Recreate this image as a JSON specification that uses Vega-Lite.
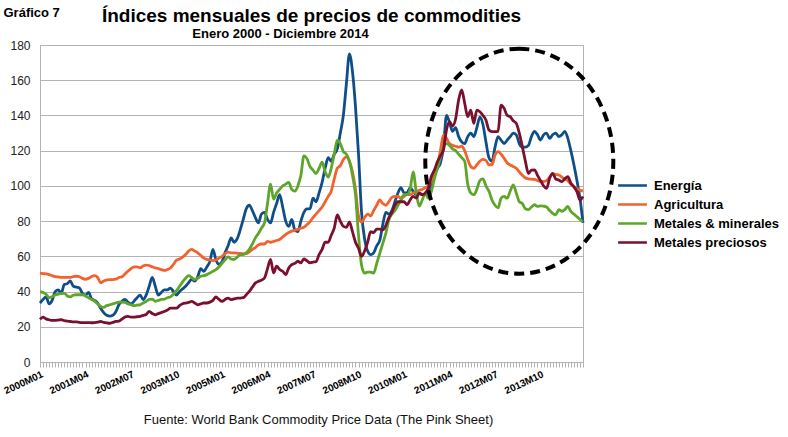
{
  "$schema": "https://vega.github.io/schema/vega-lite/v6.json",
  "autosize": {"type": "none"},
  "padding": {"left": 40, "top": 45, "right": 205, "bottom": 75},
  "width": 543,
  "height": 317,
  "title": {
    "text": "Índices mensuales de precios de commodities",
    "anchor": "middle",
    "frame": "group",
    "font": "Liberation Sans",
    "fontSize": 19,
    "fontWeight": "bold",
    "color": "#000000",
    "offset": -20
  },
  "config": {
    "view": {"stroke": "#b3b3b3", "strokeWidth": 1},
    "axis": {"gridColor": "#b3b3b3", "domainColor": "#b3b3b3", "tickColor": "#b3b3b3", "labelFont": "Liberation Sans", "titleFont": "Liberation Sans"}
  },
  "resolve": {"axis": {"y": "independent"}},
  "data": {
    "values": [
      {"mes":"2000M01","serie":"Energía","valor":33.5},{"mes":"2000M02","serie":"Energía","valor":35.5},{"mes":"2000M03","serie":"Energía","valor":37},{"mes":"2000M04","serie":"Energía","valor":33},{"mes":"2000M05","serie":"Energía","valor":35},{"mes":"2000M06","serie":"Energía","valor":40},{"mes":"2000M07","serie":"Energía","valor":41},{"mes":"2000M08","serie":"Energía","valor":39},{"mes":"2000M09","serie":"Energía","valor":44},{"mes":"2000M10","serie":"Energía","valor":44.5},{"mes":"2000M11","serie":"Energía","valor":46},{"mes":"2000M12","serie":"Energía","valor":43},
      {"mes":"2001M01","serie":"Energía","valor":42.5},{"mes":"2001M02","serie":"Energía","valor":42},{"mes":"2001M03","serie":"Energía","valor":39},{"mes":"2001M04","serie":"Energía","valor":38},{"mes":"2001M05","serie":"Energía","valor":39.5},{"mes":"2001M06","serie":"Energía","valor":36},{"mes":"2001M07","serie":"Energía","valor":35},{"mes":"2001M08","serie":"Energía","valor":33.5},{"mes":"2001M09","serie":"Energía","valor":30.5},{"mes":"2001M10","serie":"Energía","valor":28},{"mes":"2001M11","serie":"Energía","valor":26.5},{"mes":"2001M12","serie":"Energía","valor":26},
      {"mes":"2002M01","serie":"Energía","valor":26.5},{"mes":"2002M02","serie":"Energía","valor":28.5},{"mes":"2002M03","serie":"Energía","valor":32.5},{"mes":"2002M04","serie":"Energía","valor":34.5},{"mes":"2002M05","serie":"Energía","valor":35.5},{"mes":"2002M06","serie":"Energía","valor":34},{"mes":"2002M07","serie":"Energía","valor":33},{"mes":"2002M08","serie":"Energía","valor":34.5},{"mes":"2002M09","serie":"Energía","valor":36.5},{"mes":"2002M10","serie":"Energía","valor":38},{"mes":"2002M11","serie":"Energía","valor":35.5},{"mes":"2002M12","serie":"Energía","valor":38},
      {"mes":"2003M01","serie":"Energía","valor":43},{"mes":"2003M02","serie":"Energía","valor":48},{"mes":"2003M03","serie":"Energía","valor":43},{"mes":"2003M04","serie":"Energía","valor":38},{"mes":"2003M05","serie":"Energía","valor":39.5},{"mes":"2003M06","serie":"Energía","valor":41},{"mes":"2003M07","serie":"Energía","valor":41},{"mes":"2003M08","serie":"Energía","valor":42},{"mes":"2003M09","serie":"Energía","valor":40},{"mes":"2003M10","serie":"Energía","valor":38},{"mes":"2003M11","serie":"Energía","valor":40},{"mes":"2003M12","serie":"Energía","valor":41.5},
      {"mes":"2004M01","serie":"Energía","valor":43},{"mes":"2004M02","serie":"Energía","valor":45},{"mes":"2004M03","serie":"Energía","valor":47},{"mes":"2004M04","serie":"Energía","valor":46},{"mes":"2004M05","serie":"Energía","valor":48.5},{"mes":"2004M06","serie":"Energía","valor":53},{"mes":"2004M07","serie":"Energía","valor":51.5},{"mes":"2004M08","serie":"Energía","valor":54},{"mes":"2004M09","serie":"Energía","valor":57},{"mes":"2004M10","serie":"Energía","valor":64},{"mes":"2004M11","serie":"Energía","valor":58},{"mes":"2004M12","serie":"Energía","valor":55.5},
      {"mes":"2005M01","serie":"Energía","valor":57},{"mes":"2005M02","serie":"Energía","valor":62},{"mes":"2005M03","serie":"Energía","valor":66},{"mes":"2005M04","serie":"Energía","valor":70.5},{"mes":"2005M05","serie":"Energía","valor":68},{"mes":"2005M06","serie":"Energía","valor":70},{"mes":"2005M07","serie":"Energía","valor":75},{"mes":"2005M08","serie":"Energía","valor":81},{"mes":"2005M09","serie":"Energía","valor":87},{"mes":"2005M10","serie":"Energía","valor":89},{"mes":"2005M11","serie":"Energía","valor":86},{"mes":"2005M12","serie":"Energía","valor":82},
      {"mes":"2006M01","serie":"Energía","valor":79},{"mes":"2006M02","serie":"Energía","valor":84},{"mes":"2006M03","serie":"Energía","valor":85},{"mes":"2006M04","serie":"Energía","valor":81},{"mes":"2006M05","serie":"Energía","valor":79},{"mes":"2006M06","serie":"Energía","valor":85},{"mes":"2006M07","serie":"Energía","valor":90},{"mes":"2006M08","serie":"Energía","valor":95},{"mes":"2006M09","serie":"Energía","valor":88},{"mes":"2006M10","serie":"Energía","valor":80},{"mes":"2006M11","serie":"Energía","valor":77},{"mes":"2006M12","serie":"Energía","valor":81},
      {"mes":"2007M01","serie":"Energía","valor":75},{"mes":"2007M02","serie":"Energía","valor":74},{"mes":"2007M03","serie":"Energía","valor":80},{"mes":"2007M04","serie":"Energía","valor":85},{"mes":"2007M05","serie":"Energía","valor":87},{"mes":"2007M06","serie":"Energía","valor":87},{"mes":"2007M07","serie":"Energía","valor":93},{"mes":"2007M08","serie":"Energía","valor":91},{"mes":"2007M09","serie":"Energía","valor":96},{"mes":"2007M10","serie":"Energía","valor":102},{"mes":"2007M11","serie":"Energía","valor":110},{"mes":"2007M12","serie":"Energía","valor":116},
      {"mes":"2008M01","serie":"Energía","valor":114},{"mes":"2008M02","serie":"Energía","valor":118},{"mes":"2008M03","serie":"Energía","valor":121},{"mes":"2008M04","serie":"Energía","valor":130},{"mes":"2008M05","serie":"Energía","valor":140},{"mes":"2008M06","serie":"Energía","valor":158},{"mes":"2008M07","serie":"Energía","valor":175},{"mes":"2008M08","serie":"Energía","valor":165},{"mes":"2008M09","serie":"Energía","valor":145},{"mes":"2008M10","serie":"Energía","valor":118},{"mes":"2008M11","serie":"Energía","valor":85},{"mes":"2008M12","serie":"Energía","valor":70},
      {"mes":"2009M01","serie":"Energía","valor":63},{"mes":"2009M02","serie":"Energía","valor":61},{"mes":"2009M03","serie":"Energía","valor":62},{"mes":"2009M04","serie":"Energía","valor":66},{"mes":"2009M05","serie":"Energía","valor":69},{"mes":"2009M06","serie":"Energía","valor":78},{"mes":"2009M07","serie":"Energía","valor":85},{"mes":"2009M08","serie":"Energía","valor":84},{"mes":"2009M09","serie":"Energía","valor":86},{"mes":"2009M10","serie":"Energía","valor":91},{"mes":"2009M11","serie":"Energía","valor":96},{"mes":"2009M12","serie":"Energía","valor":99},
      {"mes":"2010M01","serie":"Energía","valor":96},{"mes":"2010M02","serie":"Energía","valor":96},{"mes":"2010M03","serie":"Energía","valor":99},{"mes":"2010M04","serie":"Energía","valor":97},{"mes":"2010M05","serie":"Energía","valor":95},{"mes":"2010M06","serie":"Energía","valor":96},{"mes":"2010M07","serie":"Energía","valor":95},{"mes":"2010M08","serie":"Energía","valor":95},{"mes":"2010M09","serie":"Energía","valor":97},{"mes":"2010M10","serie":"Energía","valor":100},{"mes":"2010M11","serie":"Energía","valor":106},{"mes":"2010M12","serie":"Energía","valor":110},
      {"mes":"2011M01","serie":"Energía","valor":113},{"mes":"2011M02","serie":"Energía","valor":122},{"mes":"2011M03","serie":"Energía","valor":140},{"mes":"2011M04","serie":"Energía","valor":136},{"mes":"2011M05","serie":"Energía","valor":131},{"mes":"2011M06","serie":"Energía","valor":133},{"mes":"2011M07","serie":"Energía","valor":128},{"mes":"2011M08","serie":"Energía","valor":125},{"mes":"2011M09","serie":"Energía","valor":124},{"mes":"2011M10","serie":"Energía","valor":128},{"mes":"2011M11","serie":"Energía","valor":130},{"mes":"2011M12","serie":"Energía","valor":128},
      {"mes":"2012M01","serie":"Energía","valor":133},{"mes":"2012M02","serie":"Energía","valor":139},{"mes":"2012M03","serie":"Energía","valor":135},{"mes":"2012M04","serie":"Energía","valor":125},{"mes":"2012M05","serie":"Energía","valor":116},{"mes":"2012M06","serie":"Energía","valor":114},{"mes":"2012M07","serie":"Energía","valor":122},{"mes":"2012M08","serie":"Energía","valor":128},{"mes":"2012M09","serie":"Energía","valor":126},{"mes":"2012M10","serie":"Energía","valor":124},{"mes":"2012M11","serie":"Energía","valor":126},{"mes":"2012M12","serie":"Energía","valor":128},
      {"mes":"2013M01","serie":"Energía","valor":130},{"mes":"2013M02","serie":"Energía","valor":129},{"mes":"2013M03","serie":"Energía","valor":124},{"mes":"2013M04","serie":"Energía","valor":122},{"mes":"2013M05","serie":"Energía","valor":122},{"mes":"2013M06","serie":"Energía","valor":123},{"mes":"2013M07","serie":"Energía","valor":128},{"mes":"2013M08","serie":"Energía","valor":131},{"mes":"2013M09","serie":"Energía","valor":129},{"mes":"2013M10","serie":"Energía","valor":126},{"mes":"2013M11","serie":"Energía","valor":129},{"mes":"2013M12","serie":"Energía","valor":130},
      {"mes":"2014M01","serie":"Energía","valor":127},{"mes":"2014M02","serie":"Energía","valor":129},{"mes":"2014M03","serie":"Energía","valor":130},{"mes":"2014M04","serie":"Energía","valor":128},{"mes":"2014M05","serie":"Energía","valor":129},{"mes":"2014M06","serie":"Energía","valor":131},{"mes":"2014M07","serie":"Energía","valor":127},{"mes":"2014M08","serie":"Energía","valor":120},{"mes":"2014M09","serie":"Energía","valor":112},{"mes":"2014M10","serie":"Energía","valor":103},{"mes":"2014M11","serie":"Energía","valor":93},{"mes":"2014M12","serie":"Energía","valor":79},

      {"mes":"2000M01","serie":"Agricultura","valor":50.5},{"mes":"2000M02","serie":"Agricultura","valor":50.2},{"mes":"2000M03","serie":"Agricultura","valor":50},{"mes":"2000M04","serie":"Agricultura","valor":49.6},{"mes":"2000M05","serie":"Agricultura","valor":49},{"mes":"2000M06","serie":"Agricultura","valor":48.5},{"mes":"2000M07","serie":"Agricultura","valor":48.3},{"mes":"2000M08","serie":"Agricultura","valor":48},{"mes":"2000M09","serie":"Agricultura","valor":48},{"mes":"2000M10","serie":"Agricultura","valor":48},{"mes":"2000M11","serie":"Agricultura","valor":48},{"mes":"2000M12","serie":"Agricultura","valor":48.5},
      {"mes":"2001M01","serie":"Agricultura","valor":48.7},{"mes":"2001M02","serie":"Agricultura","valor":48.5},{"mes":"2001M03","serie":"Agricultura","valor":47.5},{"mes":"2001M04","serie":"Agricultura","valor":47},{"mes":"2001M05","serie":"Agricultura","valor":47.5},{"mes":"2001M06","serie":"Agricultura","valor":48.5},{"mes":"2001M07","serie":"Agricultura","valor":49},{"mes":"2001M08","serie":"Agricultura","valor":48},{"mes":"2001M09","serie":"Agricultura","valor":45},{"mes":"2001M10","serie":"Agricultura","valor":46},{"mes":"2001M11","serie":"Agricultura","valor":46.5},{"mes":"2001M12","serie":"Agricultura","valor":46.8},
      {"mes":"2002M01","serie":"Agricultura","valor":46.8},{"mes":"2002M02","serie":"Agricultura","valor":47},{"mes":"2002M03","serie":"Agricultura","valor":48},{"mes":"2002M04","serie":"Agricultura","valor":48.3},{"mes":"2002M05","serie":"Agricultura","valor":50},{"mes":"2002M06","serie":"Agricultura","valor":51.5},{"mes":"2002M07","serie":"Agricultura","valor":53},{"mes":"2002M08","serie":"Agricultura","valor":54},{"mes":"2002M09","serie":"Agricultura","valor":54},{"mes":"2002M10","serie":"Agricultura","valor":53.5},{"mes":"2002M11","serie":"Agricultura","valor":54.5},{"mes":"2002M12","serie":"Agricultura","valor":55},
      {"mes":"2003M01","serie":"Agricultura","valor":54.8},{"mes":"2003M02","serie":"Agricultura","valor":54},{"mes":"2003M03","serie":"Agricultura","valor":53.5},{"mes":"2003M04","serie":"Agricultura","valor":53},{"mes":"2003M05","serie":"Agricultura","valor":52.5},{"mes":"2003M06","serie":"Agricultura","valor":52},{"mes":"2003M07","serie":"Agricultura","valor":52.5},{"mes":"2003M08","serie":"Agricultura","valor":53.4},{"mes":"2003M09","serie":"Agricultura","valor":55.5},{"mes":"2003M10","serie":"Agricultura","valor":57.8},{"mes":"2003M11","serie":"Agricultura","valor":58.5},{"mes":"2003M12","serie":"Agricultura","valor":59.5},
      {"mes":"2004M01","serie":"Agricultura","valor":61},{"mes":"2004M02","serie":"Agricultura","valor":63},{"mes":"2004M03","serie":"Agricultura","valor":64},{"mes":"2004M04","serie":"Agricultura","valor":63},{"mes":"2004M05","serie":"Agricultura","valor":62},{"mes":"2004M06","serie":"Agricultura","valor":60.5},{"mes":"2004M07","serie":"Agricultura","valor":59},{"mes":"2004M08","serie":"Agricultura","valor":58.3},{"mes":"2004M09","serie":"Agricultura","valor":58},{"mes":"2004M10","serie":"Agricultura","valor":57.6},{"mes":"2004M11","serie":"Agricultura","valor":58},{"mes":"2004M12","serie":"Agricultura","valor":59},
      {"mes":"2005M01","serie":"Agricultura","valor":60},{"mes":"2005M02","serie":"Agricultura","valor":61.5},{"mes":"2005M03","serie":"Agricultura","valor":62.4},{"mes":"2005M04","serie":"Agricultura","valor":62},{"mes":"2005M05","serie":"Agricultura","valor":62},{"mes":"2005M06","serie":"Agricultura","valor":61.8},{"mes":"2005M07","serie":"Agricultura","valor":61.6},{"mes":"2005M08","serie":"Agricultura","valor":61.5},{"mes":"2005M09","serie":"Agricultura","valor":61.6},{"mes":"2005M10","serie":"Agricultura","valor":62.5},{"mes":"2005M11","serie":"Agricultura","valor":64},{"mes":"2005M12","serie":"Agricultura","valor":65},
      {"mes":"2006M01","serie":"Agricultura","valor":66.5},{"mes":"2006M02","serie":"Agricultura","valor":67},{"mes":"2006M03","serie":"Agricultura","valor":67},{"mes":"2006M04","serie":"Agricultura","valor":68.5},{"mes":"2006M05","serie":"Agricultura","valor":68},{"mes":"2006M06","serie":"Agricultura","valor":68.5},{"mes":"2006M07","serie":"Agricultura","valor":69},{"mes":"2006M08","serie":"Agricultura","valor":69.6},{"mes":"2006M09","serie":"Agricultura","valor":71},{"mes":"2006M10","serie":"Agricultura","valor":72.4},{"mes":"2006M11","serie":"Agricultura","valor":73.5},{"mes":"2006M12","serie":"Agricultura","valor":74.3},
      {"mes":"2007M01","serie":"Agricultura","valor":74.8},{"mes":"2007M02","serie":"Agricultura","valor":75.3},{"mes":"2007M03","serie":"Agricultura","valor":76},{"mes":"2007M04","serie":"Agricultura","valor":76.5},{"mes":"2007M05","serie":"Agricultura","valor":78},{"mes":"2007M06","serie":"Agricultura","valor":79.6},{"mes":"2007M07","serie":"Agricultura","valor":82},{"mes":"2007M08","serie":"Agricultura","valor":84},{"mes":"2007M09","serie":"Agricultura","valor":86},{"mes":"2007M10","serie":"Agricultura","valor":88},{"mes":"2007M11","serie":"Agricultura","valor":91},{"mes":"2007M12","serie":"Agricultura","valor":94},
      {"mes":"2008M01","serie":"Agricultura","valor":97},{"mes":"2008M02","serie":"Agricultura","valor":104},{"mes":"2008M03","serie":"Agricultura","valor":110},{"mes":"2008M04","serie":"Agricultura","valor":111.5},{"mes":"2008M05","serie":"Agricultura","valor":115},{"mes":"2008M06","serie":"Agricultura","valor":116.5},{"mes":"2008M07","serie":"Agricultura","valor":114},{"mes":"2008M08","serie":"Agricultura","valor":108},{"mes":"2008M09","serie":"Agricultura","valor":98},{"mes":"2008M10","serie":"Agricultura","valor":83},{"mes":"2008M11","serie":"Agricultura","valor":79.5},{"mes":"2008M12","serie":"Agricultura","valor":82},
      {"mes":"2009M01","serie":"Agricultura","valor":84},{"mes":"2009M02","serie":"Agricultura","valor":83},{"mes":"2009M03","serie":"Agricultura","valor":86},{"mes":"2009M04","serie":"Agricultura","valor":89},{"mes":"2009M05","serie":"Agricultura","valor":92},{"mes":"2009M06","serie":"Agricultura","valor":90},{"mes":"2009M07","serie":"Agricultura","valor":89},{"mes":"2009M08","serie":"Agricultura","valor":91},{"mes":"2009M09","serie":"Agricultura","valor":93.5},{"mes":"2009M10","serie":"Agricultura","valor":94},{"mes":"2009M11","serie":"Agricultura","valor":94},{"mes":"2009M12","serie":"Agricultura","valor":93},
      {"mes":"2010M01","serie":"Agricultura","valor":94},{"mes":"2010M02","serie":"Agricultura","valor":95},{"mes":"2010M03","serie":"Agricultura","valor":95},{"mes":"2010M04","serie":"Agricultura","valor":96},{"mes":"2010M05","serie":"Agricultura","valor":96.5},{"mes":"2010M06","serie":"Agricultura","valor":97.5},{"mes":"2010M07","serie":"Agricultura","valor":98},{"mes":"2010M08","serie":"Agricultura","valor":99},{"mes":"2010M09","serie":"Agricultura","valor":100},{"mes":"2010M10","serie":"Agricultura","valor":103},{"mes":"2010M11","serie":"Agricultura","valor":107},{"mes":"2010M12","serie":"Agricultura","valor":112},
      {"mes":"2011M01","serie":"Agricultura","valor":120},{"mes":"2011M02","serie":"Agricultura","valor":129},{"mes":"2011M03","serie":"Agricultura","valor":127},{"mes":"2011M04","serie":"Agricultura","valor":124},{"mes":"2011M05","serie":"Agricultura","valor":123},{"mes":"2011M06","serie":"Agricultura","valor":122.5},{"mes":"2011M07","serie":"Agricultura","valor":122},{"mes":"2011M08","serie":"Agricultura","valor":122.5},{"mes":"2011M09","serie":"Agricultura","valor":120},{"mes":"2011M10","serie":"Agricultura","valor":115},{"mes":"2011M11","serie":"Agricultura","valor":111},{"mes":"2011M12","serie":"Agricultura","valor":110},
      {"mes":"2012M01","serie":"Agricultura","valor":112},{"mes":"2012M02","serie":"Agricultura","valor":114},{"mes":"2012M03","serie":"Agricultura","valor":115},{"mes":"2012M04","serie":"Agricultura","valor":114.5},{"mes":"2012M05","serie":"Agricultura","valor":112},{"mes":"2012M06","serie":"Agricultura","valor":112},{"mes":"2012M07","serie":"Agricultura","valor":117.5},{"mes":"2012M08","serie":"Agricultura","valor":119.4},{"mes":"2012M09","serie":"Agricultura","valor":118},{"mes":"2012M10","serie":"Agricultura","valor":115.7},{"mes":"2012M11","serie":"Agricultura","valor":113},{"mes":"2012M12","serie":"Agricultura","valor":111.9},
      {"mes":"2013M01","serie":"Agricultura","valor":111},{"mes":"2013M02","serie":"Agricultura","valor":110},{"mes":"2013M03","serie":"Agricultura","valor":108},{"mes":"2013M04","serie":"Agricultura","valor":106},{"mes":"2013M05","serie":"Agricultura","valor":104.5},{"mes":"2013M06","serie":"Agricultura","valor":104},{"mes":"2013M07","serie":"Agricultura","valor":103.8},{"mes":"2013M08","serie":"Agricultura","valor":103.7},{"mes":"2013M09","serie":"Agricultura","valor":103},{"mes":"2013M10","serie":"Agricultura","valor":102.5},{"mes":"2013M11","serie":"Agricultura","valor":102.5},{"mes":"2013M12","serie":"Agricultura","valor":103},
      {"mes":"2014M01","serie":"Agricultura","valor":105},{"mes":"2014M02","serie":"Agricultura","valor":107},{"mes":"2014M03","serie":"Agricultura","valor":106.5},{"mes":"2014M04","serie":"Agricultura","valor":106.2},{"mes":"2014M05","serie":"Agricultura","valor":105},{"mes":"2014M06","serie":"Agricultura","valor":104},{"mes":"2014M07","serie":"Agricultura","valor":103},{"mes":"2014M08","serie":"Agricultura","valor":101},{"mes":"2014M09","serie":"Agricultura","valor":99.5},{"mes":"2014M10","serie":"Agricultura","valor":98.5},{"mes":"2014M11","serie":"Agricultura","valor":97.6},{"mes":"2014M12","serie":"Agricultura","valor":97},

      {"mes":"2000M01","serie":"Metales & minerales","valor":40},{"mes":"2000M02","serie":"Metales & minerales","valor":39.5},{"mes":"2000M03","serie":"Metales & minerales","valor":38.5},{"mes":"2000M04","serie":"Metales & minerales","valor":36.5},{"mes":"2000M05","serie":"Metales & minerales","valor":37},{"mes":"2000M06","serie":"Metales & minerales","valor":38},{"mes":"2000M07","serie":"Metales & minerales","valor":38.5},{"mes":"2000M08","serie":"Metales & minerales","valor":39},{"mes":"2000M09","serie":"Metales & minerales","valor":39},{"mes":"2000M10","serie":"Metales & minerales","valor":37.5},{"mes":"2000M11","serie":"Metales & minerales","valor":37},{"mes":"2000M12","serie":"Metales & minerales","valor":38},
      {"mes":"2001M01","serie":"Metales & minerales","valor":38.2},{"mes":"2001M02","serie":"Metales & minerales","valor":38.2},{"mes":"2001M03","serie":"Metales & minerales","valor":38.2},{"mes":"2001M04","serie":"Metales & minerales","valor":37.5},{"mes":"2001M05","serie":"Metales & minerales","valor":36.5},{"mes":"2001M06","serie":"Metales & minerales","valor":35.5},{"mes":"2001M07","serie":"Metales & minerales","valor":34.5},{"mes":"2001M08","serie":"Metales & minerales","valor":33},{"mes":"2001M09","serie":"Metales & minerales","valor":31.5},{"mes":"2001M10","serie":"Metales & minerales","valor":31},{"mes":"2001M11","serie":"Metales & minerales","valor":32},{"mes":"2001M12","serie":"Metales & minerales","valor":32.5},
      {"mes":"2002M01","serie":"Metales & minerales","valor":33},{"mes":"2002M02","serie":"Metales & minerales","valor":33.5},{"mes":"2002M03","serie":"Metales & minerales","valor":34},{"mes":"2002M04","serie":"Metales & minerales","valor":34},{"mes":"2002M05","serie":"Metales & minerales","valor":33.8},{"mes":"2002M06","serie":"Metales & minerales","valor":33},{"mes":"2002M07","serie":"Metales & minerales","valor":32.5},{"mes":"2002M08","serie":"Metales & minerales","valor":32},{"mes":"2002M09","serie":"Metales & minerales","valor":32.3},{"mes":"2002M10","serie":"Metales & minerales","valor":32.5},{"mes":"2002M11","serie":"Metales & minerales","valor":33.5},{"mes":"2002M12","serie":"Metales & minerales","valor":34.4},
      {"mes":"2003M01","serie":"Metales & minerales","valor":35.5},{"mes":"2003M02","serie":"Metales & minerales","valor":35.7},{"mes":"2003M03","serie":"Metales & minerales","valor":34.5},{"mes":"2003M04","serie":"Metales & minerales","valor":35},{"mes":"2003M05","serie":"Metales & minerales","valor":35.5},{"mes":"2003M06","serie":"Metales & minerales","valor":35.7},{"mes":"2003M07","serie":"Metales & minerales","valor":36.5},{"mes":"2003M08","serie":"Metales & minerales","valor":37},{"mes":"2003M09","serie":"Metales & minerales","valor":38.5},{"mes":"2003M10","serie":"Metales & minerales","valor":40.5},{"mes":"2003M11","serie":"Metales & minerales","valor":43},{"mes":"2003M12","serie":"Metales & minerales","valor":45.5},
      {"mes":"2004M01","serie":"Metales & minerales","valor":47.5},{"mes":"2004M02","serie":"Metales & minerales","valor":49},{"mes":"2004M03","serie":"Metales & minerales","valor":48},{"mes":"2004M04","serie":"Metales & minerales","valor":46.8},{"mes":"2004M05","serie":"Metales & minerales","valor":47.5},{"mes":"2004M06","serie":"Metales & minerales","valor":48.7},{"mes":"2004M07","serie":"Metales & minerales","valor":49},{"mes":"2004M08","serie":"Metales & minerales","valor":49.6},{"mes":"2004M09","serie":"Metales & minerales","valor":50.5},{"mes":"2004M10","serie":"Metales & minerales","valor":51.5},{"mes":"2004M11","serie":"Metales & minerales","valor":52.5},{"mes":"2004M12","serie":"Metales & minerales","valor":54},
      {"mes":"2005M01","serie":"Metales & minerales","valor":56},{"mes":"2005M02","serie":"Metales & minerales","valor":58},{"mes":"2005M03","serie":"Metales & minerales","valor":59.7},{"mes":"2005M04","serie":"Metales & minerales","valor":58.5},{"mes":"2005M05","serie":"Metales & minerales","valor":58.2},{"mes":"2005M06","serie":"Metales & minerales","valor":59.5},{"mes":"2005M07","serie":"Metales & minerales","valor":61},{"mes":"2005M08","serie":"Metales & minerales","valor":61},{"mes":"2005M09","serie":"Metales & minerales","valor":62},{"mes":"2005M10","serie":"Metales & minerales","valor":64},{"mes":"2005M11","serie":"Metales & minerales","valor":67},{"mes":"2005M12","serie":"Metales & minerales","valor":70.5},
      {"mes":"2006M01","serie":"Metales & minerales","valor":73},{"mes":"2006M02","serie":"Metales & minerales","valor":76},{"mes":"2006M03","serie":"Metales & minerales","valor":79},{"mes":"2006M04","serie":"Metales & minerales","valor":90},{"mes":"2006M05","serie":"Metales & minerales","valor":101},{"mes":"2006M06","serie":"Metales & minerales","valor":92.5},{"mes":"2006M07","serie":"Metales & minerales","valor":96},{"mes":"2006M08","serie":"Metales & minerales","valor":98},{"mes":"2006M09","serie":"Metales & minerales","valor":100},{"mes":"2006M10","serie":"Metales & minerales","valor":101},{"mes":"2006M11","serie":"Metales & minerales","valor":102},{"mes":"2006M12","serie":"Metales & minerales","valor":98},
      {"mes":"2007M01","serie":"Metales & minerales","valor":97},{"mes":"2007M02","serie":"Metales & minerales","valor":100},{"mes":"2007M03","serie":"Metales & minerales","valor":106},{"mes":"2007M04","serie":"Metales & minerales","valor":117},{"mes":"2007M05","serie":"Metales & minerales","valor":115.5},{"mes":"2007M06","serie":"Metales & minerales","valor":111},{"mes":"2007M07","serie":"Metales & minerales","valor":109},{"mes":"2007M08","serie":"Metales & minerales","valor":107},{"mes":"2007M09","serie":"Metales & minerales","valor":110},{"mes":"2007M10","serie":"Metales & minerales","valor":113.5},{"mes":"2007M11","serie":"Metales & minerales","valor":108},{"mes":"2007M12","serie":"Metales & minerales","valor":105},
      {"mes":"2008M01","serie":"Metales & minerales","valor":110},{"mes":"2008M02","serie":"Metales & minerales","valor":118},{"mes":"2008M03","serie":"Metales & minerales","valor":126},{"mes":"2008M04","serie":"Metales & minerales","valor":124},{"mes":"2008M05","serie":"Metales & minerales","valor":119.5},{"mes":"2008M06","serie":"Metales & minerales","valor":118},{"mes":"2008M07","serie":"Metales & minerales","valor":114},{"mes":"2008M08","serie":"Metales & minerales","valor":106},{"mes":"2008M09","serie":"Metales & minerales","valor":95},{"mes":"2008M10","serie":"Metales & minerales","valor":72},{"mes":"2008M11","serie":"Metales & minerales","valor":55},{"mes":"2008M12","serie":"Metales & minerales","valor":50.5},
      {"mes":"2009M01","serie":"Metales & minerales","valor":51},{"mes":"2009M02","serie":"Metales & minerales","valor":51},{"mes":"2009M03","serie":"Metales & minerales","valor":50.5},{"mes":"2009M04","serie":"Metales & minerales","valor":56},{"mes":"2009M05","serie":"Metales & minerales","valor":61.7},{"mes":"2009M06","serie":"Metales & minerales","valor":67.4},{"mes":"2009M07","serie":"Metales & minerales","valor":73},{"mes":"2009M08","serie":"Metales & minerales","valor":80.6},{"mes":"2009M09","serie":"Metales & minerales","valor":84},{"mes":"2009M10","serie":"Metales & minerales","valor":86},{"mes":"2009M11","serie":"Metales & minerales","valor":89},{"mes":"2009M12","serie":"Metales & minerales","valor":92},
      {"mes":"2010M01","serie":"Metales & minerales","valor":95},{"mes":"2010M02","serie":"Metales & minerales","valor":95},{"mes":"2010M03","serie":"Metales & minerales","valor":98},{"mes":"2010M04","serie":"Metales & minerales","valor":108},{"mes":"2010M05","serie":"Metales & minerales","valor":97},{"mes":"2010M06","serie":"Metales & minerales","valor":88.5},{"mes":"2010M07","serie":"Metales & minerales","valor":92},{"mes":"2010M08","serie":"Metales & minerales","valor":95.8},{"mes":"2010M09","serie":"Metales & minerales","valor":93},{"mes":"2010M10","serie":"Metales & minerales","valor":96.8},{"mes":"2010M11","serie":"Metales & minerales","valor":104},{"mes":"2010M12","serie":"Metales & minerales","valor":110},
      {"mes":"2011M01","serie":"Metales & minerales","valor":116},{"mes":"2011M02","serie":"Metales & minerales","valor":122},{"mes":"2011M03","serie":"Metales & minerales","valor":124},{"mes":"2011M04","serie":"Metales & minerales","valor":123},{"mes":"2011M05","serie":"Metales & minerales","valor":121},{"mes":"2011M06","serie":"Metales & minerales","valor":120},{"mes":"2011M07","serie":"Metales & minerales","valor":118},{"mes":"2011M08","serie":"Metales & minerales","valor":116},{"mes":"2011M09","serie":"Metales & minerales","valor":114},{"mes":"2011M10","serie":"Metales & minerales","valor":101},{"mes":"2011M11","serie":"Metales & minerales","valor":96},{"mes":"2011M12","serie":"Metales & minerales","valor":95},
      {"mes":"2012M01","serie":"Metales & minerales","valor":98},{"mes":"2012M02","serie":"Metales & minerales","valor":103},{"mes":"2012M03","serie":"Metales & minerales","valor":104},{"mes":"2012M04","serie":"Metales & minerales","valor":100},{"mes":"2012M05","serie":"Metales & minerales","valor":97},{"mes":"2012M06","serie":"Metales & minerales","valor":92},{"mes":"2012M07","serie":"Metales & minerales","valor":89},{"mes":"2012M08","serie":"Metales & minerales","valor":87.5},{"mes":"2012M09","serie":"Metales & minerales","valor":93},{"mes":"2012M10","serie":"Metales & minerales","valor":94},{"mes":"2012M11","serie":"Metales & minerales","valor":93},{"mes":"2012M12","serie":"Metales & minerales","valor":97},
      {"mes":"2013M01","serie":"Metales & minerales","valor":100.5},{"mes":"2013M02","serie":"Metales & minerales","valor":96},{"mes":"2013M03","serie":"Metales & minerales","valor":91},{"mes":"2013M04","serie":"Metales & minerales","valor":90},{"mes":"2013M05","serie":"Metales & minerales","valor":87},{"mes":"2013M06","serie":"Metales & minerales","valor":86.5},{"mes":"2013M07","serie":"Metales & minerales","valor":88},{"mes":"2013M08","serie":"Metales & minerales","valor":89.3},{"mes":"2013M09","serie":"Metales & minerales","valor":88.4},{"mes":"2013M10","serie":"Metales & minerales","valor":88.7},{"mes":"2013M11","serie":"Metales & minerales","valor":88.5},{"mes":"2013M12","serie":"Metales & minerales","valor":88},
      {"mes":"2014M01","serie":"Metales & minerales","valor":86},{"mes":"2014M02","serie":"Metales & minerales","valor":84.4},{"mes":"2014M03","serie":"Metales & minerales","valor":83.5},{"mes":"2014M04","serie":"Metales & minerales","valor":86.5},{"mes":"2014M05","serie":"Metales & minerales","valor":85.6},{"mes":"2014M06","serie":"Metales & minerales","valor":86.5},{"mes":"2014M07","serie":"Metales & minerales","valor":88.4},{"mes":"2014M08","serie":"Metales & minerales","valor":85.5},{"mes":"2014M09","serie":"Metales & minerales","valor":84},{"mes":"2014M10","serie":"Metales & minerales","valor":82.5},{"mes":"2014M11","serie":"Metales & minerales","valor":81},{"mes":"2014M12","serie":"Metales & minerales","valor":79.7},

      {"mes":"2000M01","serie":"Metales preciosos","valor":24.3},{"mes":"2000M02","serie":"Metales preciosos","valor":25.5},{"mes":"2000M03","serie":"Metales preciosos","valor":24.5},{"mes":"2000M04","serie":"Metales preciosos","valor":24},{"mes":"2000M05","serie":"Metales preciosos","valor":23.6},{"mes":"2000M06","serie":"Metales preciosos","valor":23.6},{"mes":"2000M07","serie":"Metales preciosos","valor":23.8},{"mes":"2000M08","serie":"Metales preciosos","valor":24},{"mes":"2000M09","serie":"Metales preciosos","valor":23.5},{"mes":"2000M10","serie":"Metales preciosos","valor":23.2},{"mes":"2000M11","serie":"Metales preciosos","valor":23},{"mes":"2000M12","serie":"Metales preciosos","valor":22.8},
      {"mes":"2001M01","serie":"Metales preciosos","valor":22.8},{"mes":"2001M02","serie":"Metales preciosos","valor":22.5},{"mes":"2001M03","serie":"Metales preciosos","valor":22.4},{"mes":"2001M04","serie":"Metales preciosos","valor":22.4},{"mes":"2001M05","serie":"Metales preciosos","valor":22.4},{"mes":"2001M06","serie":"Metales preciosos","valor":22.3},{"mes":"2001M07","serie":"Metales preciosos","valor":22.4},{"mes":"2001M08","serie":"Metales preciosos","valor":22.6},{"mes":"2001M09","serie":"Metales preciosos","valor":23},{"mes":"2001M10","serie":"Metales preciosos","valor":22.5},{"mes":"2001M11","serie":"Metales preciosos","valor":22.2},{"mes":"2001M12","serie":"Metales preciosos","valor":22},
      {"mes":"2002M01","serie":"Metales preciosos","valor":22.5},{"mes":"2002M02","serie":"Metales preciosos","valor":23},{"mes":"2002M03","serie":"Metales preciosos","valor":23.2},{"mes":"2002M04","serie":"Metales preciosos","valor":24.3},{"mes":"2002M05","serie":"Metales preciosos","valor":25.5},{"mes":"2002M06","serie":"Metales preciosos","valor":25.9},{"mes":"2002M07","serie":"Metales preciosos","valor":25.5},{"mes":"2002M08","serie":"Metales preciosos","valor":25.5},{"mes":"2002M09","serie":"Metales preciosos","valor":25.7},{"mes":"2002M10","serie":"Metales preciosos","valor":25.9},{"mes":"2002M11","serie":"Metales preciosos","valor":26.5},{"mes":"2002M12","serie":"Metales preciosos","valor":27},
      {"mes":"2003M01","serie":"Metales preciosos","valor":28.7},{"mes":"2003M02","serie":"Metales preciosos","valor":27.5},{"mes":"2003M03","serie":"Metales preciosos","valor":26.8},{"mes":"2003M04","serie":"Metales preciosos","valor":27.5},{"mes":"2003M05","serie":"Metales preciosos","valor":28.1},{"mes":"2003M06","serie":"Metales preciosos","valor":28.7},{"mes":"2003M07","serie":"Metales preciosos","valor":29.5},{"mes":"2003M08","serie":"Metales preciosos","valor":30.6},{"mes":"2003M09","serie":"Metales preciosos","valor":30.6},{"mes":"2003M10","serie":"Metales preciosos","valor":30.6},{"mes":"2003M11","serie":"Metales preciosos","valor":32},{"mes":"2003M12","serie":"Metales preciosos","valor":33.1},
      {"mes":"2004M01","serie":"Metales preciosos","valor":33.5},{"mes":"2004M02","serie":"Metales preciosos","valor":33.8},{"mes":"2004M03","serie":"Metales preciosos","valor":34.4},{"mes":"2004M04","serie":"Metales preciosos","valor":33.5},{"mes":"2004M05","serie":"Metales preciosos","valor":32.5},{"mes":"2004M06","serie":"Metales preciosos","valor":33},{"mes":"2004M07","serie":"Metales preciosos","valor":33.5},{"mes":"2004M08","serie":"Metales preciosos","valor":33.5},{"mes":"2004M09","serie":"Metales preciosos","valor":34},{"mes":"2004M10","serie":"Metales preciosos","valor":35},{"mes":"2004M11","serie":"Metales preciosos","valor":36.9},{"mes":"2004M12","serie":"Metales preciosos","valor":35.5},
      {"mes":"2005M01","serie":"Metales preciosos","valor":34.4},{"mes":"2005M02","serie":"Metales preciosos","valor":35.5},{"mes":"2005M03","serie":"Metales preciosos","valor":36.3},{"mes":"2005M04","serie":"Metales preciosos","valor":35.4},{"mes":"2005M05","serie":"Metales preciosos","valor":35.8},{"mes":"2005M06","serie":"Metales preciosos","valor":36.3},{"mes":"2005M07","serie":"Metales preciosos","valor":36.3},{"mes":"2005M08","serie":"Metales preciosos","valor":36.5},{"mes":"2005M09","serie":"Metales preciosos","valor":38.2},{"mes":"2005M10","serie":"Metales preciosos","valor":40.1},{"mes":"2005M11","serie":"Metales preciosos","valor":42.5},{"mes":"2005M12","serie":"Metales preciosos","valor":44.9},
      {"mes":"2006M01","serie":"Metales preciosos","valor":45.8},{"mes":"2006M02","serie":"Metales preciosos","valor":46.5},{"mes":"2006M03","serie":"Metales preciosos","valor":47.7},{"mes":"2006M04","serie":"Metales preciosos","valor":53},{"mes":"2006M05","serie":"Metales preciosos","valor":58.2},{"mes":"2006M06","serie":"Metales preciosos","valor":50.6},{"mes":"2006M07","serie":"Metales preciosos","valor":54.4},{"mes":"2006M08","serie":"Metales preciosos","valor":52.5},{"mes":"2006M09","serie":"Metales preciosos","valor":51.5},{"mes":"2006M10","serie":"Metales preciosos","valor":49.6},{"mes":"2006M11","serie":"Metales preciosos","valor":53.4},{"mes":"2006M12","serie":"Metales preciosos","valor":55.3},
      {"mes":"2007M01","serie":"Metales preciosos","valor":56},{"mes":"2007M02","serie":"Metales preciosos","valor":57.2},{"mes":"2007M03","serie":"Metales preciosos","valor":56.3},{"mes":"2007M04","serie":"Metales preciosos","valor":58.5},{"mes":"2007M05","serie":"Metales preciosos","valor":57.5},{"mes":"2007M06","serie":"Metales preciosos","valor":56.3},{"mes":"2007M07","serie":"Metales preciosos","valor":56.7},{"mes":"2007M08","serie":"Metales preciosos","valor":57},{"mes":"2007M09","serie":"Metales preciosos","valor":61},{"mes":"2007M10","serie":"Metales preciosos","valor":64},{"mes":"2007M11","serie":"Metales preciosos","valor":68},{"mes":"2007M12","serie":"Metales preciosos","valor":68},
      {"mes":"2008M01","serie":"Metales preciosos","valor":72},{"mes":"2008M02","serie":"Metales preciosos","valor":76},{"mes":"2008M03","serie":"Metales preciosos","valor":83.5},{"mes":"2008M04","serie":"Metales preciosos","valor":80},{"mes":"2008M05","serie":"Metales preciosos","valor":77},{"mes":"2008M06","serie":"Metales preciosos","valor":76.5},{"mes":"2008M07","serie":"Metales preciosos","valor":79.5},{"mes":"2008M08","serie":"Metales preciosos","valor":74},{"mes":"2008M09","serie":"Metales preciosos","valor":68},{"mes":"2008M10","serie":"Metales preciosos","valor":64.6},{"mes":"2008M11","serie":"Metales preciosos","valor":60},{"mes":"2008M12","serie":"Metales preciosos","valor":63},
      {"mes":"2009M01","serie":"Metales preciosos","valor":68},{"mes":"2009M02","serie":"Metales preciosos","valor":74},{"mes":"2009M03","serie":"Metales preciosos","valor":73.5},{"mes":"2009M04","serie":"Metales preciosos","valor":75.5},{"mes":"2009M05","serie":"Metales preciosos","valor":75.5},{"mes":"2009M06","serie":"Metales preciosos","valor":75},{"mes":"2009M07","serie":"Metales preciosos","valor":77.5},{"mes":"2009M08","serie":"Metales preciosos","valor":82},{"mes":"2009M09","serie":"Metales preciosos","valor":85},{"mes":"2009M10","serie":"Metales preciosos","valor":89},{"mes":"2009M11","serie":"Metales preciosos","valor":91},{"mes":"2009M12","serie":"Metales preciosos","valor":91},
      {"mes":"2010M01","serie":"Metales preciosos","valor":91},{"mes":"2010M02","serie":"Metales preciosos","valor":89.3},{"mes":"2010M03","serie":"Metales preciosos","valor":92},{"mes":"2010M04","serie":"Metales preciosos","valor":94},{"mes":"2010M05","serie":"Metales preciosos","valor":93.1},{"mes":"2010M06","serie":"Metales preciosos","valor":95.8},{"mes":"2010M07","serie":"Metales preciosos","valor":95},{"mes":"2010M08","serie":"Metales preciosos","valor":96},{"mes":"2010M09","serie":"Metales preciosos","valor":98.6},{"mes":"2010M10","serie":"Metales preciosos","valor":105.3},{"mes":"2010M11","serie":"Metales preciosos","valor":109},{"mes":"2010M12","serie":"Metales preciosos","valor":113.7},
      {"mes":"2011M01","serie":"Metales preciosos","valor":117},{"mes":"2011M02","serie":"Metales preciosos","valor":120.4},{"mes":"2011M03","serie":"Metales preciosos","valor":131.7},{"mes":"2011M04","serie":"Metales preciosos","valor":136.5},{"mes":"2011M05","serie":"Metales preciosos","valor":134},{"mes":"2011M06","serie":"Metales preciosos","valor":138},{"mes":"2011M07","serie":"Metales preciosos","valor":148.8},{"mes":"2011M08","serie":"Metales preciosos","valor":154.5},{"mes":"2011M09","serie":"Metales preciosos","valor":146.9},{"mes":"2011M10","serie":"Metales preciosos","valor":139.3},{"mes":"2011M11","serie":"Metales preciosos","valor":143},{"mes":"2011M12","serie":"Metales preciosos","valor":135.5},
      {"mes":"2012M01","serie":"Metales preciosos","valor":143},{"mes":"2012M02","serie":"Metales preciosos","valor":142.1},{"mes":"2012M03","serie":"Metales preciosos","valor":140},{"mes":"2012M04","serie":"Metales preciosos","valor":137.4},{"mes":"2012M05","serie":"Metales preciosos","valor":131.7},{"mes":"2012M06","serie":"Metales preciosos","valor":130.8},{"mes":"2012M07","serie":"Metales preciosos","valor":130.8},{"mes":"2012M08","serie":"Metales preciosos","valor":131},{"mes":"2012M09","serie":"Metales preciosos","valor":145.9},{"mes":"2012M10","serie":"Metales preciosos","valor":144},{"mes":"2012M11","serie":"Metales preciosos","valor":140},{"mes":"2012M12","serie":"Metales preciosos","valor":139.3},
      {"mes":"2013M01","serie":"Metales preciosos","valor":137},{"mes":"2013M02","serie":"Metales preciosos","valor":135.5},{"mes":"2013M03","serie":"Metales preciosos","valor":130},{"mes":"2013M04","serie":"Metales preciosos","valor":122.3},{"mes":"2013M05","serie":"Metales preciosos","valor":114},{"mes":"2013M06","serie":"Metales preciosos","valor":107},{"mes":"2013M07","serie":"Metales preciosos","valor":109},{"mes":"2013M08","serie":"Metales preciosos","valor":109.1},{"mes":"2013M09","serie":"Metales preciosos","valor":106},{"mes":"2013M10","serie":"Metales preciosos","valor":103},{"mes":"2013M11","serie":"Metales preciosos","valor":100},{"mes":"2013M12","serie":"Metales preciosos","valor":98.6},
      {"mes":"2014M01","serie":"Metales preciosos","valor":104.3},{"mes":"2014M02","serie":"Metales preciosos","valor":107.1},{"mes":"2014M03","serie":"Metales preciosos","valor":104},{"mes":"2014M04","serie":"Metales preciosos","valor":103.3},{"mes":"2014M05","serie":"Metales preciosos","valor":102.4},{"mes":"2014M06","serie":"Metales preciosos","valor":104},{"mes":"2014M07","serie":"Metales preciosos","valor":105.3},{"mes":"2014M08","serie":"Metales preciosos","valor":101.5},{"mes":"2014M09","serie":"Metales preciosos","valor":99.5},{"mes":"2014M10","serie":"Metales preciosos","valor":96.7},{"mes":"2014M11","serie":"Metales preciosos","valor":92},{"mes":"2014M12","serie":"Metales preciosos","valor":94}
    ]
  },
  "encoding": {
    "x": {
      "field": "mes",
      "type": "ordinal",
      "scale": {"type": "point", "padding": 0},
      "axis": {
        "title": "Fuente: World Bank Commodity Price Data (The Pink Sheet)",
        "titleX": 278,
        "titleY": 61,
        "titleAlign": "center",
        "titleBaseline": "alphabetic",
        "titleFontSize": 13,
        "titleFontWeight": "normal",
        "titleColor": "#111111",
        "labelAngle": -25,
        "labelAlign": "right",
        "labelBaseline": "top",
        "labelFontSize": 10,
        "labelFontWeight": "bold",
        "labelColor": "#000000",
        "labelPadding": 2,
        "labelOverlap": false,
        "labelExpr": "indexof(['2000M01','2001M04','2002M07','2003M10','2005M01','2006M04','2007M07','2008M10','2010M01','2011M04','2012M07','2013M10'], datum.value) >= 0 ? datum.value : ''",
        "tickSize": 5,
        "grid": false
      }
    },
    "y": {
      "field": "valor",
      "type": "quantitative",
      "scale": {"domain": [0, 180], "nice": false},
      "axis": {
        "values": [0, 20, 40, 60, 80, 100, 120, 140, 160, 180],
        "title": "Gráfico 7",
        "titleAngle": 0,
        "titleX": -37,
        "titleY": -29,
        "titleAlign": "left",
        "titleBaseline": "alphabetic",
        "titleFontSize": 13,
        "titleFontWeight": "bold",
        "titleColor": "#000000",
        "labelFontSize": 12,
        "labelColor": "#222222",
        "labelPadding": 10,
        "ticks": false
      }
    }
  },
  "layer": [
    {
      "mark": {"type": "line", "interpolate": "monotone", "strokeWidth": 2.8},
      "encoding": {
        "color": {
          "field": "serie",
          "type": "nominal",
          "scale": {
            "domain": ["Energía", "Agricultura", "Metales & minerales", "Metales preciosos"],
            "range": ["#0f4f87", "#f2622e", "#5fa52a", "#7b0f2e"]
          },
          "legend": {
            "title": null,
            "orient": "none",
            "legendX": 582,
            "legendY": 130,
            "symbolType": "M-1.6,0H1.6",
            "symbolSize": 324,
            "symbolStrokeWidth": 2.5,
            "labelFont": "Liberation Sans",
            "labelFontSize": 13,
            "labelFontWeight": "bold",
            "labelColor": "#000000",
            "labelOffset": 11,
            "rowPadding": 1,
            "padding": 0
          }
        }
      }
    },
    {
      "data": {"values": [{"mes": "2013M03", "valor": 114}]},
      "mark": {
        "type": "point",
        "shape": "M0,-1C0.4615,-1 0.8356,-0.5523 0.8356,0C0.8356,0.5523 0.4615,1 0,1C-0.4615,1 -0.8356,0.5523 -0.8356,0C-0.8356,-0.5523 -0.4615,-1 0,-1Z",
        "size": 50625,
        "filled": false,
        "stroke": "#000000",
        "strokeWidth": 4,
        "strokeDash": [10, 6],
        "opacity": 1
      },
      "encoding": {
        "y": {
          "field": "valor",
          "type": "quantitative",
          "scale": {"domain": [0, 180], "nice": false},
          "axis": {
            "orient": "right",
            "title": "Enero 2000 - Diciembre 2014",
            "titleAngle": 0,
            "titleX": -303,
            "titleY": -8,
            "titleAlign": "center",
            "titleBaseline": "alphabetic",
            "titleFont": "Liberation Sans",
            "titleFontSize": 13,
            "titleFontWeight": "bold",
            "titleColor": "#000000",
            "labels": false,
            "ticks": false,
            "domain": false,
            "grid": false
          }
        }
      }
    }
  ]
}
